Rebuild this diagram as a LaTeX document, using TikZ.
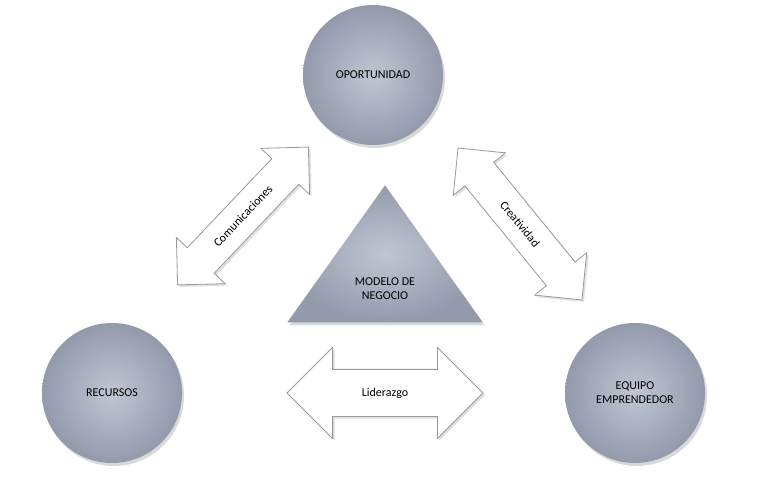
\documentclass[tikz,border=0pt]{standalone}
\usepackage{fontspec}
\setmainfont{Carlito}
\usetikzlibrary{shapes.geometric,shapes.arrows,shadows}
\definecolor{cin}{RGB}{192,198,210}
\definecolor{cout}{RGB}{146,154,172}
\begin{document}
\begin{tikzpicture}[x=1pt,y=1pt,
  shd/.style={inner color=cin,outer color=cout,drop shadow={opacity=0.3,shadow xshift=2pt,shadow yshift=-3pt}},
  circ/.style={circle,minimum size=140pt,draw=none,shd,font=\fontsize{12}{14}\selectfont,align=center,text=black},
  darr/.style={double arrow,draw=black!40,fill=white,line width=0.8pt,double arrow head extend=15pt,inner xsep=2pt,inner ysep=14pt,font=\fontsize{12}{14}\selectfont,drop shadow={opacity=0.25,shadow xshift=2pt,shadow yshift=-2pt}}]
\useasboundingbox (0,0) rectangle (764,500);
\node[circ] (op) at (373,425) {OPORTUNIDAD};
\node[circ] (re) at (112,107) {RECURSOS};
\node[circ] (eq) at (635,107) {EQUIPO\\EMPRENDEDOR};
\node[isosceles triangle,shape border rotate=90,isosceles triangle apex angle=71,minimum height=137pt,inner sep=0pt,shd,anchor=apex] (tri) at (385,315) {};
\node[align=center,font=\fontsize{12}{14}\selectfont] (tt) at (385,211) {MODELO DE\\NEGOCIO};
\node[darr,minimum height=190pt,rotate=46.5] (a1) at (243,284) {Comunicaciones};
\node[darr,minimum height=196pt,rotate=-50.8] (a2) at (520,276) {Creatividad};
\node[darr,minimum height=196pt,inner ysep=18pt,double arrow head extend=22pt] (a3) at (385,107) {Liderazgo};
\end{tikzpicture}
\end{document}
